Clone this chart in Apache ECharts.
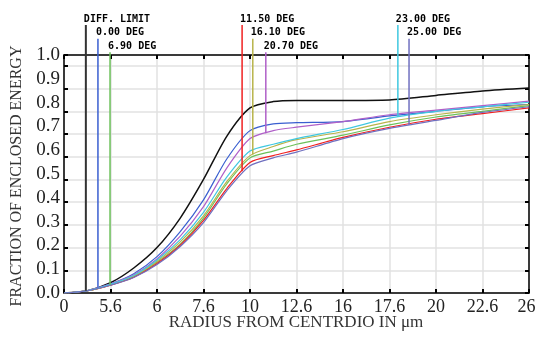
<!DOCTYPE html>
<html><head><meta charset="utf-8">
<script src="https://cdn.jsdelivr.net/npm/echarts@6/dist/echarts.min.js"></script>
<style>html,body{margin:0;padding:0;background:#fff}#c{width:535px;height:338px}</style>
</head><body><div id="c"></div>
<script>
// ---- data ----
const xTickLabels = ['0','5.6','6','7.6','10','12.6','16','17.6','20','22.6','26'];
const yTickLabels = ['0.0','0.1','0.2','0.3','0.4','0.5','0.6','0.7','0.8','0.9','1.0'];
const fieldNames = ['DIFF. LIMIT','0.00 DEG','6.90 DEG','11.50 DEG','16.10 DEG','20.70 DEG','23.00 DEG','25.00 DEG'];
const xPos       = [0, 0.5, 1, 1.5, 2, 2.5, 3, 3.5, 4, 4.5, 5, 6, 7, 8, 9, 10];
const diffLimit  = [0, 0.01, 0.045, 0.11, 0.20, 0.33, 0.50, 0.69, 0.815, 0.843, 0.848, 0.848, 0.85, 0.87, 0.89, 0.903];
const deg000     = [0, 0.01, 0.04, 0.085, 0.16, 0.27, 0.41, 0.59, 0.715, 0.745, 0.75, 0.755, 0.78, 0.80, 0.82, 0.83];
const deg690     = [0, 0.01, 0.036, 0.072, 0.135, 0.215, 0.33, 0.48, 0.595, 0.625, 0.655, 0.695, 0.74, 0.775, 0.80, 0.825];
const deg1150    = [0, 0.01, 0.035, 0.07, 0.13, 0.21, 0.32, 0.46, 0.575, 0.605, 0.63, 0.685, 0.73, 0.765, 0.79, 0.815];
const deg1610    = [0, 0.01, 0.037, 0.075, 0.14, 0.225, 0.34, 0.49, 0.605, 0.645, 0.675, 0.71, 0.755, 0.785, 0.81, 0.83];
const deg2070    = [0, 0.01, 0.04, 0.08, 0.15, 0.25, 0.38, 0.55, 0.68, 0.715, 0.73, 0.755, 0.785, 0.805, 0.825, 0.845];
const deg2300    = [0, 0.01, 0.038, 0.077, 0.145, 0.235, 0.355, 0.51, 0.625, 0.655, 0.68, 0.72, 0.77, 0.80, 0.82, 0.84];
const deg2500    = [0, 0.01, 0.034, 0.068, 0.125, 0.205, 0.31, 0.45, 0.56, 0.595, 0.62, 0.68, 0.725, 0.76, 0.795, 0.82];
const markerX    = [0.47, 0.73, 0.99, 3.83, 4.06, 4.34, 7.18, 7.42];

// ---- styling / layout ----
const seriesValues = [diffLimit, deg000, deg690, deg1150, deg1610, deg2070, deg2300, deg2500];
const colors = ['#111111','#3a5fd0','#6cc05a','#f02020','#b8b44a','#b060c8','#40c8e0','#7070c0'];
const labelTier = [0,1,2,0,1,2,0,1];
const tierTop = [1.18, 1.12, 1.06];
const Y_MAX = 1.048;

function interp(xs, ys, x){
  for(let i=1;i<xs.length;i++){ if(x<=xs[i]){ const t=(x-xs[i-1])/(xs[i]-xs[i-1]); return ys[i-1]+t*(ys[i]-ys[i-1]); } }
  return ys[ys.length-1];
}

const chart = echarts.init(document.getElementById('c'), null, {renderer:'canvas'});
const serif = '"Liberation Serif","Times New Roman",serif';
const series = [];
seriesValues.forEach((vals,i)=>{
  series.push({type:'line', name:fieldNames[i], data: xPos.map((x,j)=>[x,vals[j]]), showSymbol:false, smooth:0.25,
    lineStyle:{color:colors[i], width: i===0?1.5:1.2}, z: 3});
});
seriesValues.forEach((vals,i)=>{
  const bottom = interp(xPos, vals, markerX[i]);
  series.push({type:'line', data:[[markerX[i], bottom],[markerX[i], tierTop[labelTier[i]]]], showSymbol:false, clip:false,
    lineStyle:{color: i===0 ? '#333' : colors[i], width: i===0?2:1.5}, z: 4});
});

const tickStyle = {show:true, inside:true, length:4, lineStyle:{color:'#000', width:2}};
const lineBlack = {show:true, onZero:false, lineStyle:{color:'#000', width:1.5}};
const lastIdx = xTickLabels.length - 1;
chart.setOption({
  animation:false,
  grid:{left:64, right:6, top:55, bottom:45, outerBoundsMode:'none', containLabel:false},
  xAxis:[
    {type:'value', min:0, max:10, interval:1, position:'bottom',
      axisLine:lineBlack, axisTick:tickStyle,
      splitLine:{show:true, lineStyle:{color:'#e2e2e2', width:1.5}},
      axisLabel:{color:'#222', fontFamily:serif, fontSize:18, margin:5,
        formatter:(v)=>{ const k=Math.round(v); return k===lastIdx ? '{last|'+xTickLabels[k]+'}' : xTickLabels[k]; },
        rich:{last:{fontFamily:serif, fontSize:18, color:'#222', padding:[0,5,0,0]}}}},
    {type:'value', min:0, max:10, interval:1, position:'top',
      axisLine:lineBlack, axisTick:tickStyle,
      splitLine:{show:false}, axisLabel:{show:false}}
  ],
  yAxis:[
    {type:'value', min:0, max:Y_MAX, interval:0.1, position:'left',
      axisLine:lineBlack, axisTick:tickStyle,
      splitLine:{show:true, lineStyle:{color:'#e2e2e2', width:1.5}},
      axisLabel:{show:false}},
    {type:'value', min:0, max:1, interval:0.1, position:'left',
      axisLine:{show:false}, axisTick:{show:false}, splitLine:{show:false},
      axisLabel:{color:'#222', fontFamily:serif, fontSize:19, margin:4, formatter:(v)=>yTickLabels[Math.round(v*10)]}},
    {type:'value', min:0, max:Y_MAX, interval:0.1, position:'right',
      axisLine:lineBlack, axisTick:tickStyle,
      splitLine:{show:false}, axisLabel:{show:false}}
  ],
  series: series
});

const graphics = [
  {type:'text', x:0, y:0, style:{text:'RADIUS FROM CENTRDIO IN μm', font:'17px '+serif, fill:'#333', textAlign:'center', textVerticalAlign:'middle', x:296, y:323}},
  {type:'text', rotation:Math.PI/2, x:17, y:176, style:{text:'FRACTION OF ENCLOSED ENERGY', font:'16px '+serif, fill:'#333', textAlign:'center', textVerticalAlign:'middle'}}
];
fieldNames.forEach((name,i)=>{
  const p = chart.convertToPixel({xAxisIndex:0, yAxisIndex:0}, [markerX[i], tierTop[labelTier[i]]]);
  graphics.push({type:'text', x:p[0]-2, y:p[1]-1, style:{text:name, font:'bold 10px "DejaVu Sans Mono",monospace', fill:'#000', textAlign:'left', textVerticalAlign:'bottom'}, z:10});
});
chart.setOption({graphic: graphics});
</script>
</body></html>
